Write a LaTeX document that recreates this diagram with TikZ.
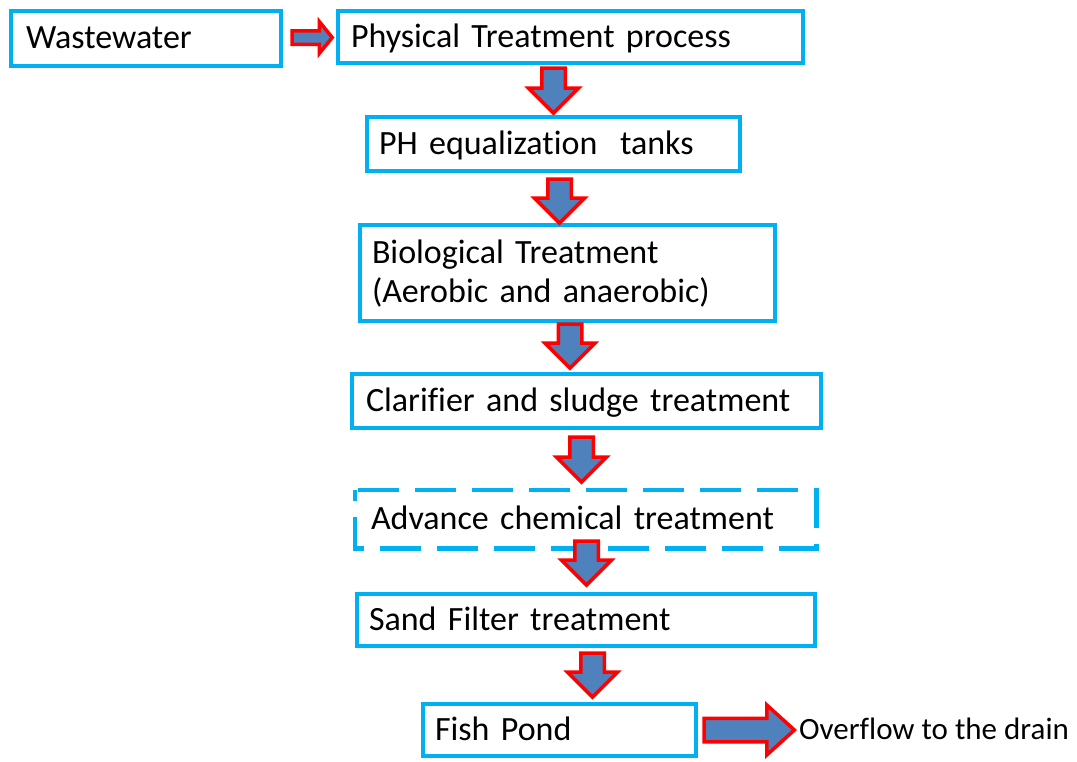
\documentclass[tikz,border=0pt]{standalone}
\usepackage{fontspec}
\setmainfont{Carlito}[Ligatures=NoCommon]
\usetikzlibrary{calc}

\definecolor{boxcyan}{HTML}{00B0F0}
\definecolor{arrowblue}{HTML}{4F81BD}
\definecolor{arrowred}{HTML}{FF0000}

% block arrow pointing down: from, to, x-coordinate, start offset, tip offset
\newcommand\flowdown[5]{%
  \draw[barrow] let \p1=(#1.south -| #3), \p2=(#2.north -| #3) in
    ({\x1-11.75pt},{\y1-(#4pt)}) -- ({\x1+11.75pt},{\y1-(#4pt)})
    -- ({\x1+11.75pt},{\y2-(#5pt)+25pt}) -- ({\x1+25pt},{\y2-(#5pt)+25pt})
    -- (\x1,{\y2-(#5pt)}) -- ({\x1-25pt},{\y2-(#5pt)+25pt})
    -- ({\x1-11.75pt},{\y2-(#5pt)+25pt}) -- cycle;}

% block arrow pointing right: from, to, y-coordinate, start offset, tip offset,
% shaft half-height, head half-height, head length
\newcommand\flowright[8]{%
  \draw[barrow] let \p1=(#1.east |- #3), \p2=(#2.west |- #3) in
    ({\x1+#4pt},{\y1+#6pt}) -- ({\x2+(#5pt)-#8pt},{\y1+#6pt})
    -- ({\x2+(#5pt)-#8pt},{\y1+#7pt}) -- ({\x2+(#5pt)},\y1)
    -- ({\x2+(#5pt)-#8pt},{\y1-#7pt}) -- ({\x2+(#5pt)-#8pt},{\y1-#6pt})
    -- ({\x1+#4pt},{\y1-#6pt}) -- cycle;}

\tikzset{
  stagebox/.style n args={3}{draw=boxcyan, line width=4.5pt, fill=white,
    minimum width=#1pt, minimum height=#2pt, inner xsep=#3pt, inner ysep=0pt,
    text width={#1pt-2*#3pt}, align=left,
    font=\fontsize{34}{39}\selectfont, text height=25pt, text depth=5pt},
  dashstage/.style={draw=boxcyan, line width=4.5pt,
    dash pattern=on 41pt off 16pt, dash phase=54pt},
  barrow/.style={fill=arrowblue, draw=arrowred, line width=3.5pt, line join=miter},
}

\begin{document}
\begin{tikzpicture}[x=1pt, y=-1pt]
\useasboundingbox (0,0) rectangle (1077,761);

% process stages
\node[stagebox={270}{55}{15}] (ww) at (146,38.5) {Wastewater};
\node[stagebox={465}{52}{13}] (phys) at (570.5,37) {Physical Treatment process};
\node[stagebox={373}{54}{12}] (ph) at (553.5,144) {PH equalization~ tanks};
\node[stagebox={415}{96}{12}, text depth=44pt] (bio) at (567.5,273)
  {Biological Treatment\\(Aerobic and anaerobic)};
\node[stagebox={469}{54}{14}] (clar) at (586.5,401) {Clarifier and sludge treatment};
\node[stagebox={457}{54}{14}, draw=none, fill=none] (adv) at (585.5,519)
  {Advance chemical treatment};
\draw[dashstage] (adv.north west) -- (adv.north east) -- (adv.south east)
  -- (adv.south west) -- cycle;
\node[stagebox={458}{52}{12}] (sand) at (586,620) {Sand Filter treatment};
\node[stagebox={273}{52}{12}] (fish) at (559.5,730) {Fish Pond};
\node[anchor=west, inner sep=0pt, font=\fontsize{31}{37}\selectfont,
  text height=23pt, text depth=5pt] (ovf) at (799,730) {Overflow to the drain};

% arrow axes
\coordinate (r1) at (0,37.5);
\coordinate (r8) at (0,730);
\coordinate (d2) at (553.5,0);
\coordinate (d3) at (559.5,0);
\coordinate (d4) at (570,0);
\coordinate (d5) at (581.5,0);
\coordinate (d6) at (586.5,0);
\coordinate (d7) at (592.5,0);

% flow arrows
\flowright{ww}{phys}{r1}{8.75}{-3.5}{6.75}{16}{13}
\flowdown{phys}{ph}{d2}{2.75}{-1.6}
\flowdown{ph}{bio}{d3}{5.75}{0.4}
\flowdown{bio}{clar}{d4}{0.75}{-3.6}
\flowdown{clar}{adv}{d5}{6.75}{-7.6}
\flowdown{adv}{sand}{d6}{-7.25}{-6.6}
\flowdown{sand}{fish}{d7}{4.75}{-4.6}
\flowright{fish}{ovf}{r8}{5.75}{-4.6}{11.75}{25}{27.6}
\end{tikzpicture}
\end{document}
